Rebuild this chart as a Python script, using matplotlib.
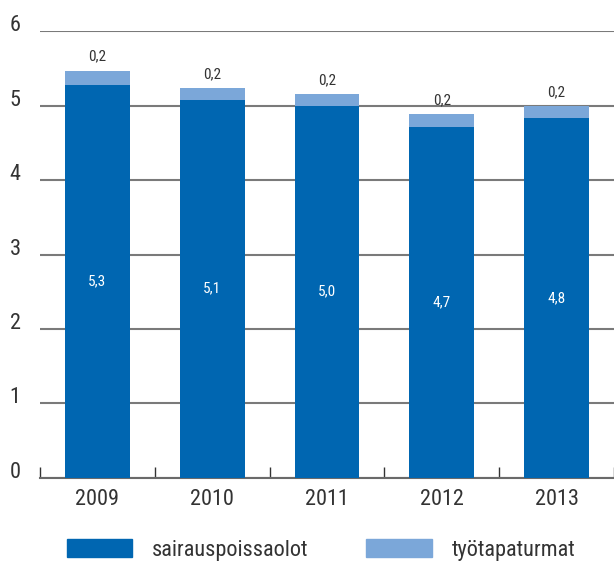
import matplotlib.pyplot as plt
from matplotlib.patches import Patch

plt.rcParams['font.family'] = ['Liberation Sans Narrow', 'Roboto Condensed',
                               'DejaVu Sans Condensed', 'Roboto', 'DejaVu Sans']

years = ['2009', '2010', '2011', '2012', '2013']
sairaus = [5.28, 5.08, 5.00, 4.72, 4.83]
tyotapaturmat = [0.19, 0.16, 0.16, 0.17, 0.16]
legend_labels = ['sairauspoissaolot', 'työtapaturmat']

dark = '#0066b1'
light = '#7ba7d9'
txt = '#333333'

fig = plt.figure(figsize=(6.14, 5.62), dpi=100)
ax = fig.add_axes([40/614, 0.15, 1 - 40/614, 0.7943])

x = range(len(years))
w = 0.565
ax.bar(x, sairaus, width=w, color=dark, zorder=3)
ax.bar(x, tyotapaturmat, width=w, bottom=sairaus, color=light, zorder=3)

# value labels: white inside the dark part, small grey above the stack
for i in x:
    ax.text(i, sairaus[i] / 2, f"{sairaus[i]:.1f}".replace('.', ','),
            ha='center', va='center', color='white', fontsize=11, zorder=4)
    ax.annotate(f"{tyotapaturmat[i]:.1f}".replace('.', ','),
                (i, sairaus[i] + tyotapaturmat[i]), xytext=(0, 5),
                textcoords='offset points', ha='center', va='bottom',
                color=txt, fontsize=11)

ax.set_xlim(-0.5, len(years) - 0.5)
ax.set_ylim(0, 6)
ax.set_yticks(range(7))
ax.grid(axis='y', color='#7a7a7a', linewidth=1.5, zorder=0)
ax.set_axisbelow(True)

for s in ['left', 'right', 'top']:
    ax.spines[s].set_visible(False)
ax.spines['bottom'].set_color('#6a6a6a')
ax.spines['bottom'].set_linewidth(1.5)

ax.set_xticks(list(x))
ax.set_xticklabels(years)
ax.set_xticks([i - 0.5 for i in range(len(years) + 1)], minor=True)
ax.tick_params(axis='x', which='major', length=0, pad=8, labelsize=16, labelcolor=txt)
ax.tick_params(axis='x', which='minor', length=8, width=1, direction='in', color='#333333')
ax.tick_params(axis='y', length=0, pad=14, labelsize=16, labelcolor=txt)
for lab in ax.get_yticklabels():
    lab.set_verticalalignment('baseline')

handles = [Patch(color=dark), Patch(color=light)]
fig.legend(handles, legend_labels, loc='upper left', bbox_to_anchor=(67/614, 0.041),
           ncol=2, frameon=False, fontsize=16, handlelength=2.93, handleheight=0.9,
           handletextpad=0.9, columnspacing=2.6, borderpad=0, borderaxespad=0,
           labelcolor=txt)

fig.savefig('out.png', dpi=100)
